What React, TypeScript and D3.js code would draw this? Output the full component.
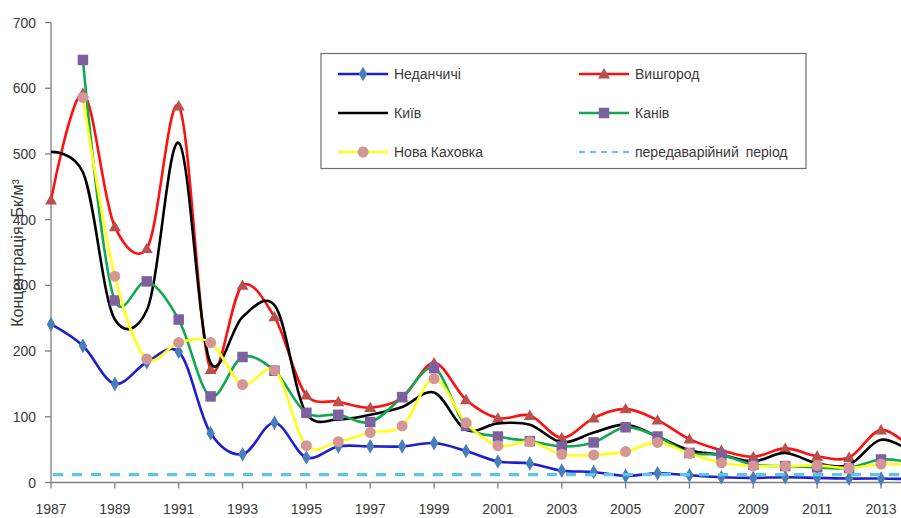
import React from "react";
import * as d3 from "d3";

// Річні концентрації, Бк/м³
const years = [
  1987, 1988, 1989, 1990, 1991, 1992, 1993, 1994, 1995, 1996, 1997, 1998, 1999, 2000,
  2001, 2002, 2003, 2004, 2005, 2006, 2007, 2008, 2009, 2010, 2011, 2012, 2013, 2014,
];

const nedanchychi = [241, 208, 150, 183, 199, 75, 43, 91, 38, 55, 55, 55, 60, 48, 32, 29, 18, 16, 10, 14, 11, 8, 7, 8, 7, 6, 6, 5];
const vyshhorod = [430, 592, 389, 356, 573, 172, 300, 252, 133, 123, 114, 129, 182, 126, 98, 102, 68, 98, 112, 95, 66, 49, 39, 52, 40, 38, 80, 50];
const kyiv = [503, 472, 248, 262, 517, 182, 252, 270, 105, 96, 103, 115, 137, 80, 90, 88, 61, 76, 88, 70, 49, 42, 32, 45, 29, 27, 65, 45];
const kaniv = [null, 643, 277, 306, 248, 131, 191, 170, 106, 103, 92, 130, 174, 86, 70, 63, 55, 61, 84, 70, 45, 42, 27, 25, 23, 22, 35, 30];
const novaKakhovka = [null, 586, 314, 188, 213, 213, 149, 171, 56, 62, 76, 86, 158, 91, 56, 62, 43, 42, 47, 61, 44, 30, 25, 25, 26, 22, 28, 27];
const preAccidentLevel = 12;

const yTicks = [0, 100, 200, 300, 400, 500, 600, 700];
const xTickYears = [1987, 1989, 1991, 1993, 1995, 1997, 1999, 2001, 2003, 2005, 2007, 2009, 2011, 2013];

type Marker = "diamond" | "triangle" | "square" | "circle" | "none";

const series: { name: string; values: (number | null)[]; line: string; fill: string; marker: Marker }[] = [
  { name: "Неданчичі", values: nedanchychi, line: "#1f1fd0", fill: "#4a7ebb", marker: "diamond" },
  { name: "Вишгород", values: vyshhorod, line: "#ff1010", fill: "#b9504c", marker: "triangle" },
  { name: "Київ", values: kyiv, line: "#000000", fill: "#000000", marker: "none" },
  { name: "Канів", values: kaniv, line: "#13a653", fill: "#7d60a0", marker: "square" },
  { name: "Нова Каховка", values: novaKakhovka, line: "#ffff1a", fill: "#d49694", marker: "circle" },
];

const W = 901;
const H = 518;
const FONT = "'Liberation Sans', Arial, sans-serif";
const TEXT = "#3a3a3a";
const AXIS = "#7f7f7f";
const DASH = "#5cc6e8";

const x = d3.scaleLinear().domain([1987, 2013]).range([51, 881]);
const y = d3.scaleLinear().domain([0, 700]).range([482.5, 22.5]);

const symbolType: Record<string, d3.SymbolType> = {
  diamond: d3.symbolDiamond,
  triangle: d3.symbolTriangle,
  square: d3.symbolSquare,
  circle: d3.symbolCircle,
};
const symbolSize: Record<string, number> = {
  diamond: 62,
  triangle: 62,
  square: 110,
  circle: 95,
};

function MarkerGlyph({ kind, cx, cy, fill }: { kind: Marker; cx: number; cy: number; fill: string }) {
  if (kind === "none") return null;
  const path = d3.symbol(symbolType[kind], symbolSize[kind])() || "";
  const dy = kind === "triangle" ? 1 : 0;
  return <path d={path} transform={`translate(${cx},${cy + dy})`} fill={fill} />;
}

// smoothed line through the yearly points
const lineGen = d3
  .line<[number, number | null]>()
  .defined((d) => d[1] != null)
  .x((d) => x(d[0]))
  .y((d) => y(d[1] as number))
  .curve(d3.curveCatmullRom.alpha(0.15));

export default function App() {
  const legendCols = [338, 579];
  const legendRows = [74, 113, 152];
  const legendItems = [
    { ...series[0], col: 0, row: 0 },
    { ...series[1], col: 1, row: 0 },
    { ...series[2], col: 0, row: 1 },
    { ...series[3], col: 1, row: 1 },
    { ...series[4], col: 0, row: 2 },
  ];

  return (
    <svg
      width={W}
      height={H}
      style={{ position: "absolute", left: 0, top: 0, background: "#fff" }}
      fontFamily={FONT}
    >
      <rect width={W} height={H} fill="#fff" />

      {/* axes */}
      <line x1={51} x2={51} y1={y(700)} y2={y(0)} stroke={AXIS} strokeWidth={1.3} />
      <line x1={51} x2={W} y1={y(0)} y2={y(0)} stroke={AXIS} strokeWidth={1.3} />
      {yTicks.map((t) => (
        <g key={t}>
          <line x1={45} x2={51} y1={y(t)} y2={y(t)} stroke={AXIS} strokeWidth={1.3} />
          <text x={36} y={y(t) + 5} textAnchor="end" fontSize={14} fill={TEXT}>
            {t}
          </text>
        </g>
      ))}
      {xTickYears.map((t) => (
        <g key={t}>
          <line x1={x(t)} x2={x(t)} y1={y(0)} y2={y(0) + 6} stroke={AXIS} strokeWidth={1.3} />
          <text x={x(t)} y={514} textAnchor="middle" fontSize={14} fill={TEXT}>
            {t}
          </text>
        </g>
      ))}
      <text
        transform={`translate(23,253) rotate(-90)`}
        textAnchor="middle"
        fontSize={16}
        fill={TEXT}
      >
        Концентрація, Бк/м³
      </text>

      {/* series */}
      {series.map((s) => {
        const pts = years.map((yr, i) => [yr, s.values[i]] as [number, number | null]);
        return (
          <g key={s.name}>
            <path d={lineGen(pts) || ""} fill="none" stroke={s.line} strokeWidth={2.6} />
            {pts
              .filter((p) => p[1] != null)
              .map((p) => (
                <MarkerGlyph key={p[0]} kind={s.marker} cx={x(p[0])} cy={y(p[1] as number)} fill={s.fill} />
              ))}
          </g>
        );
      })}

      {/* pre-accident level */}
      <line
        x1={x(1987) + 2}
        x2={W}
        y1={y(preAccidentLevel)}
        y2={y(preAccidentLevel)}
        stroke={DASH}
        strokeWidth={3.2}
        strokeDasharray="10 9"
      />

      {/* legend */}
      <rect x={321} y={53.5} width={485} height={115} fill="#fff" stroke="#6f6f6f" strokeWidth={1.2} />
      {legendItems.map((it) => {
        const lx = legendCols[it.col];
        const ly = legendRows[it.row];
        return (
          <g key={it.name}>
            <line x1={lx} x2={lx + 50} y1={ly} y2={ly} stroke={it.line} strokeWidth={2.4} />
            <MarkerGlyph kind={it.marker} cx={lx + 25} cy={ly} fill={it.fill} />
            <text x={lx + 56} y={ly + 5} fontSize={14} fill={TEXT}>
              {it.name}
            </text>
          </g>
        );
      })}
      <line
        x1={legendCols[1]}
        x2={legendCols[1] + 50}
        y1={legendRows[2]}
        y2={legendRows[2]}
        stroke={DASH}
        strokeWidth={2}
        strokeDasharray="6 5"
      />
      <text x={legendCols[1] + 56} y={legendRows[2] + 5} fontSize={14} fill={TEXT} style={{ wordSpacing: "3px" }}>
        передаварійний період
      </text>
    </svg>
  );
}
